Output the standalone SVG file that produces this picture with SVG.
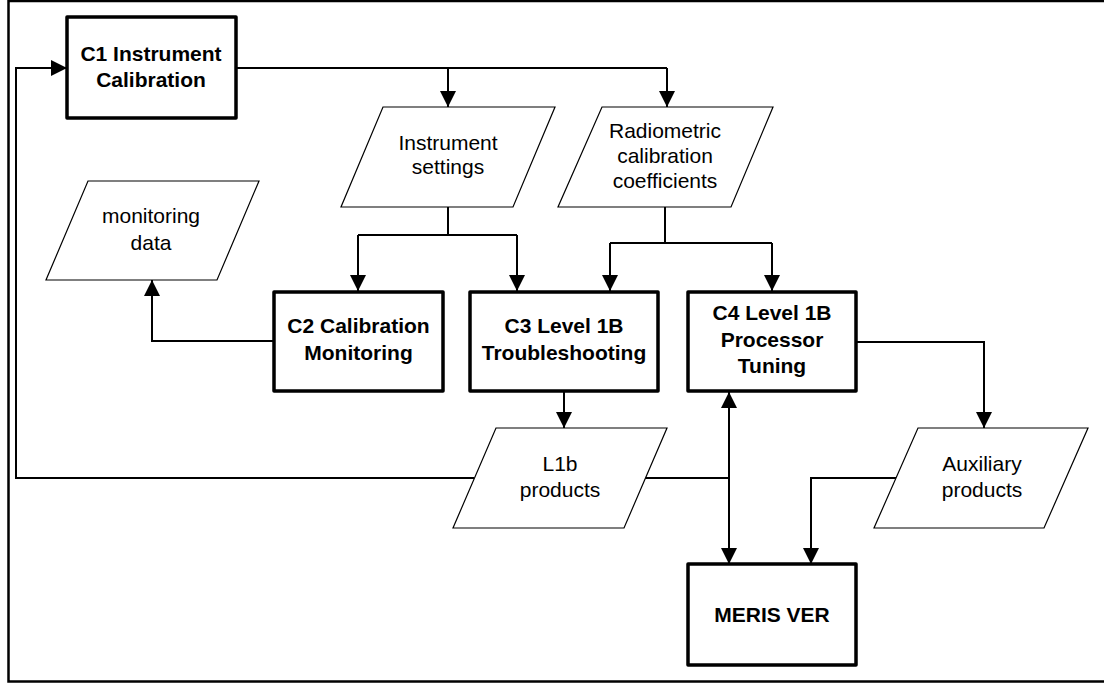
<svg xmlns="http://www.w3.org/2000/svg" width="1104" height="686" viewBox="0 0 1104 686">
  <defs>
    <marker id="arrow" viewBox="0 0 16 16" refX="16" refY="8" markerWidth="16" markerHeight="16" markerUnits="userSpaceOnUse" orient="auto-start-reverse">
      <path d="M0,0 L16,8 L0,16 z" fill="#000"/>
    </marker>
    <style>
      .frame { fill: none; stroke: #000; stroke-width: 2.5; }
      .proc rect { fill: #fff; stroke: #000; stroke-width: 3.5; stroke-linejoin: round; }
      .data polygon { fill: #fff; stroke: #000; stroke-width: 1.2; }
      .proc text { font-family: "Liberation Sans", Arial, sans-serif; font-size: 21px; font-weight: bold; text-anchor: middle; fill: #000; }
      .data text { font-family: "Liberation Sans", Arial, sans-serif; font-size: 21px; text-anchor: middle; fill: #000; }
      #connectors path { fill: none; stroke: #000; stroke-width: 2; }
      #connectors .arr { marker-end: url(#arrow); }
    </style>
  </defs>

  <rect width="1104" height="686" fill="#fff"/>
  <!-- outer frame -->
  <path class="frame" d="M1104,1 H8.5 V681.5 H1104"/>

  <!-- connectors -->
  <g id="connectors">
    <path d="M236,68 H667"/>
    <path class="arr" d="M448,68 V107"/>
    <path class="arr" d="M667,68 V107"/>

    <path d="M448,207 V235"/>
    <path d="M358,235 H517"/>
    <path class="arr" d="M358,235 V291"/>
    <path class="arr" d="M517,235 V291"/>

    <path d="M665,207 V243"/>
    <path d="M610,243 H772"/>
    <path class="arr" d="M610,243 V291"/>
    <path class="arr" d="M772,243 V291"/>

    <path class="arr" d="M274,341 H152 V280"/>
    <path class="arr" d="M564,391 V428"/>
    <path class="arr" d="M856,342 H984 V428"/>

    <path d="M645,478 H729"/>
    <path d="M729,392 V564" marker-start="url(#arrow)" marker-end="url(#arrow)"/>
    <path class="arr" d="M474,478 H16 V68 H67"/>
    <path class="arr" d="M896,478 H811 V564"/>
  </g>

  <!-- process boxes -->
  <g id="c1" class="proc">
    <rect x="67" y="17" width="169" height="101"/>
    <text x="151" y="61">C1 Instrument</text>
    <text x="151" y="87">Calibration</text>
  </g>
  <g id="c2" class="proc">
    <rect x="274" y="292" width="169" height="99"/>
    <text x="358.5" y="333">C2 Calibration</text>
    <text x="358.5" y="360">Monitoring</text>
  </g>
  <g id="c3" class="proc">
    <rect x="470" y="292" width="188" height="99"/>
    <text x="564" y="333">C3 Level 1B</text>
    <text x="564" y="360">Troubleshooting</text>
  </g>
  <g id="c4" class="proc">
    <rect x="688" y="292" width="168" height="99"/>
    <text x="772" y="320">C4 Level 1B</text>
    <text x="772" y="347">Processor</text>
    <text x="772" y="373">Tuning</text>
  </g>
  <g id="meris-ver" class="proc">
    <rect x="688" y="564" width="168" height="101"/>
    <text x="772" y="622">MERIS VER</text>
  </g>

  <!-- data items -->
  <g id="instrument-settings" class="data">
    <polygon points="383,107 555,107 513,207 341,207"/>
    <text x="448" y="150">Instrument</text>
    <text x="448" y="174">settings</text>
  </g>
  <g id="radiometric-coefficients" class="data">
    <polygon points="602,107 773,107 731,207 558,207"/>
    <text x="665" y="138">Radiometric</text>
    <text x="665" y="163">calibration</text>
    <text x="665" y="188">coefficients</text>
  </g>
  <g id="monitoring-data" class="data">
    <polygon points="88,181 259,181 217,280 46,280"/>
    <text x="151" y="223">monitoring</text>
    <text x="151" y="250">data</text>
  </g>
  <g id="l1b-products" class="data">
    <polygon points="496,428 667,428 624,528 453,528"/>
    <text x="560" y="471">L1b</text>
    <text x="560" y="497">products</text>
  </g>
  <g id="auxiliary-products" class="data">
    <polygon points="918,428 1088,428 1044,528 874,528"/>
    <text x="982" y="471">Auxiliary</text>
    <text x="982" y="497">products</text>
  </g>
</svg>
